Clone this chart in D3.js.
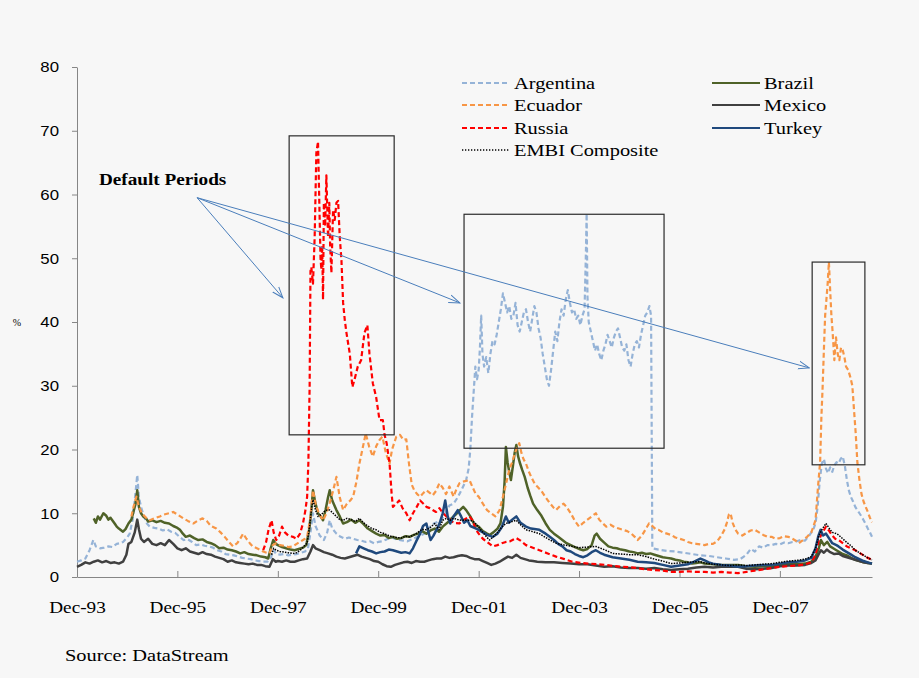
<!DOCTYPE html>
<html>
<head>
<meta charset="utf-8">
<script src="https://cdn.jsdelivr.net/npm/d3@7"></script>
<style>
  body { margin: 0; background: #f7f7f7; }
  svg text { font-family: "Liberation Serif", "Times New Roman", serif; fill: #000; }
</style>
</head>
<body>
<svg id="chart" width="919" height="678"></svg>
<script>
// --- data: [months after Dec-93, spread in %] ---
const xTickLabels = ["Dec-93", "Dec-95", "Dec-97", "Dec-99", "Dec-01", "Dec-03", "Dec-05", "Dec-07"];
const yTicks = [0, 10, 20, 30, 40, 50, 60, 70, 80];
const lastMonth = 190;

const argentina = [[0,2.4],[1,2.6],[2,2.9],[3,4.2],[3.9,5.8],[4.5,4.8],[5.5,4.5],[6.5,4.6],[7.5,4.8],[8.5,4.7],[9.5,5.2],[10.3,5.3],[11,5.5],[12,6.2],[12.6,6.8],[13.3,9.0],[13.8,12.0],[14.4,16.0],[14.8,12.5],[15.3,11.0],[16,9.5],[16.7,8.4],[17.4,7.9],[18.5,7.7],[19.5,7.6],[20.5,7.3],[21.5,7.5],[22.5,7.1],[23.5,6.9],[24.5,6.3],[25.5,5.8],[26.5,5.9],[27.5,5.5],[28.5,5.0],[29.5,5.1],[30.5,4.9],[31.5,4.8],[32.5,4.6],[33.5,4.2],[34.5,4.0],[35.5,3.6],[36.5,3.5],[37.5,3.4],[38.5,3.2],[39.5,3.0],[40.5,2.9],[41.5,2.8],[42.5,2.6],[43.5,2.5],[44.5,2.4],[45.5,2.4],[46.3,3.0],[47,4.2],[47.6,3.6],[48.5,3.5],[49.5,3.6],[50.5,3.4],[51.5,3.5],[52.5,3.6],[53.5,3.8],[54.5,4.0],[55.2,4.5],[55.8,7.0],[56.4,10.0],[57,8.0],[58,6.5],[59,5.8],[59.8,7.0],[60.4,8.9],[61,7.6],[62,6.8],[63,6.3],[64,6.0],[65,6.2],[66,6.0],[67,5.8],[68,5.7],[69,5.5],[70,5.6],[71,5.3],[72,5.5],[73,5.6],[74,5.9],[75,6.3],[76,6.0],[77,5.8],[78,5.7],[79,5.6],[80,5.9],[81,6.2],[82,6.5],[83,6.8],[84,7.6],[85,8.3],[86,8.6],[87,8.9],[88,10.0],[89,11.2],[90,11.5],[91,12.5],[92,13.8],[93,15.2],[93.6,17.0],[94,20.0],[94.4,25.0],[94.8,29.0],[95.2,33.0],[95.6,31.0],[96,32.5],[96.3,36.0],[96.6,41.0],[96.9,35.0],[97.3,33.0],[97.8,34.5],[98.3,32.0],[98.8,35.0],[99.3,37.0],[99.8,36.5],[100.3,38.0],[100.8,40.0],[101.3,42.0],[101.8,44.5],[102.3,43.0],[102.8,41.5],[103.3,42.5],[103.8,40.5],[104.3,41.0],[104.8,43.0],[105.3,39.5],[105.8,38.5],[106.3,40.0],[106.8,41.5],[107.3,42.0],[107.8,40.0],[108.3,38.5],[108.8,40.5],[109.3,42.5],[109.8,41.5],[110.3,39.0],[110.8,37.5],[111.3,35.0],[111.8,33.0],[112.3,31.0],[112.8,30.0],[113.3,32.5],[113.8,35.5],[114.3,38.5],[114.8,37.0],[115.3,40.0],[115.8,42.0],[116.3,41.0],[116.8,43.5],[117.3,45.0],[117.8,43.0],[118.3,41.5],[118.8,42.0],[119.3,40.5],[119.8,41.0],[120.3,39.5],[120.8,41.0],[121.3,42.0],[121.6,50.0],[121.8,57.0],[122,44.0],[122.3,40.0],[122.8,38.5],[123.3,37.0],[123.8,35.5],[124.3,36.5],[124.8,35.0],[125.3,34.0],[125.8,35.5],[126.3,36.5],[126.8,38.0],[127.3,37.0],[127.8,36.0],[128.3,37.5],[128.8,38.5],[129.3,39.0],[129.8,37.5],[130.3,36.0],[130.8,35.5],[131.3,36.5],[131.8,34.0],[132.3,33.0],[132.8,35.0],[133.3,36.5],[133.8,37.0],[134.3,36.0],[134.8,38.0],[135.3,39.5],[135.8,41.0],[136.3,41.5],[136.8,42.5],[137.2,41.0],[137.5,4.5],[139,4.3],[141,4.1],[143,4.0],[145,3.8],[147,3.6],[149,3.4],[151,3.3],[153,3.1],[155,2.9],[157,2.7],[158.5,2.8],[160,3.5],[161,4.4],[162,4.0],[163,4.8],[164,4.6],[165,5.0],[166,5.0],[167,5.2],[168,5.1],[169,5.4],[170,5.3],[171,5.5],[172,5.6],[173,5.8],[174,5.7],[175,6.5],[176,7.5],[176.5,8.4],[177,11.0],[177.5,15.0],[178,17.8],[178.5,18.5],[179,17.0],[179.5,16.3],[180,17.2],[180.5,16.5],[181,17.5],[181.5,18.0],[182,17.8],[182.5,18.5],[183,18.9],[183.5,17.5],[184,15.2],[184.5,13.5],[185,12.5],[185.5,11.8],[186,11.0],[186.5,10.5],[187,10.0],[187.5,9.5],[188,8.9],[188.5,8.3],[189,7.6],[189.5,7.0],[190,6.3]];

const brazil = [[4,9.2],[4.5,8.5],[5,9.5],[5.5,9.0],[6.3,10.0],[7,9.6],[7.5,9.0],[8,9.3],[9,8.4],[9.5,7.9],[10,7.6],[11,7.1],[11.6,7.5],[12.3,8.4],[13,9.0],[13.4,10.0],[14,11.5],[14.4,13.6],[14.8,11.0],[15.3,10.0],[15.8,9.5],[16.5,9.2],[17,8.7],[18,8.9],[19,8.6],[20,8.8],[21,8.5],[22,8.4],[23,8.0],[24,7.7],[24.6,7.4],[25.3,6.8],[26,6.3],[27,6.5],[28,6.1],[29,5.8],[30,5.9],[31,5.5],[32,5.3],[33,5.0],[34,4.5],[35,4.6],[36,4.3],[37,4.2],[38,4.0],[39,3.7],[40,3.9],[41,3.6],[42,3.5],[43,3.4],[44,3.2],[45,3.1],[45.7,2.9],[46.3,4.5],[46.9,5.8],[47.5,5.2],[48,5.0],[49,4.7],[50,4.5],[51,4.3],[52,4.2],[53,4.4],[54,4.6],[54.8,5.0],[55.5,7.5],[56,10.5],[56.4,13.6],[57,11.5],[57.6,10.0],[58.2,9.5],[58.8,8.9],[59.4,10.5],[60,12.5],[60.4,13.6],[61,12.0],[62,10.5],[62.8,9.5],[63.6,8.4],[64.5,8.6],[65.5,9.0],[66.5,8.5],[67.5,8.9],[68.5,8.3],[69.5,7.6],[70.5,7.2],[71.5,6.8],[72.5,6.5],[73.5,6.6],[74.5,6.1],[75.5,6.3],[76.5,6.0],[77.5,6.1],[78.5,6.4],[79.5,6.3],[80.5,6.6],[81.5,6.8],[82.5,7.2],[83.5,6.8],[84.5,7.3],[85.5,7.6],[86.5,7.1],[87.4,7.9],[88.5,8.5],[89.5,9.2],[90.5,9.8],[91.5,10.5],[92.3,11.0],[93,10.5],[94,9.5],[95,8.2],[96,7.9],[97,7.2],[98,6.8],[98.6,6.6],[99.5,7.0],[100.5,7.6],[101.2,8.4],[101.8,11.0],[102.2,15.0],[102.5,20.4],[102.9,18.0],[103.3,16.5],[103.7,15.2],[104.2,17.5],[104.6,19.5],[105,20.7],[105.4,19.0],[105.8,18.0],[106.4,16.8],[107,15.7],[107.7,14.0],[108.3,12.8],[109,11.5],[110,10.5],[111,9.6],[112,8.4],[113,7.4],[114,6.8],[115,6.3],[116,5.8],[117,5.3],[118,5.0],[119,4.7],[120,4.4],[121,4.2],[122,4.4],[123,5.0],[123.7,6.5],[124.2,6.8],[125,6.0],[126,5.4],[127,4.8],[128,4.6],[129,4.5],[130,4.3],[131,4.2],[132,4.0],[133,3.9],[134,3.7],[135,3.8],[136,3.6],[137,3.7],[138,3.5],[139,3.3],[140,3.1],[141,3.0],[142,2.9],[143,2.7],[144,2.6],[145,2.4],[146,2.3],[147,2.1],[148,2.2],[149,2.3],[150,2.1],[152,2.0],[154,1.9],[156,1.9],[158,1.9],[160,1.7],[162,1.6],[164,1.7],[166,1.6],[168,1.9],[170,2.1],[172,2.0],[174,2.1],[175.5,2.4],[176.5,3.2],[177.3,4.5],[177.8,5.8],[178.5,5.0],[179.3,5.5],[180,4.8],[181,4.4],[182,4.0],[183,3.6],[184,3.4],[185,3.0],[186,2.7],[187,2.5],[188,2.3],[189,2.2],[190,2.1]];

const ecuador = [[13,9.5],[13.5,11.0],[14.2,12.6],[14.8,11.0],[15.5,10.0],[16.5,9.3],[17.4,8.9],[18.5,9.2],[19.8,9.5],[20.8,9.8],[22,10.0],[23,10.2],[24,9.8],[25.4,9.2],[26.5,8.8],[27.8,8.4],[29,8.9],[30,9.2],[31,8.8],[32,8.0],[33.3,7.6],[34.3,7.0],[35.3,6.3],[36.3,5.5],[37.3,4.8],[38.3,5.3],[39,6.0],[39.7,6.8],[40.5,6.0],[41.3,5.3],[42,4.8],[43,4.5],[44,4.2],[44.5,4.0],[45.3,3.8],[46,3.7],[46.8,5.0],[47.6,5.3],[48.5,5.0],[49.5,4.9],[50.5,4.7],[51.6,4.8],[52.5,5.2],[53.5,5.6],[54.5,6.0],[55,6.3],[55.7,9.0],[56.4,13.6],[57,11.5],[57.8,10.0],[58.8,8.9],[59.6,10.0],[60.4,11.6],[61.2,13.5],[62,15.7],[62.8,12.5],[63.6,10.5],[64.5,11.5],[65.3,12.0],[66,12.6],[66.8,15.0],[67.5,17.8],[68.2,20.0],[69,22.5],[69.8,20.5],[70.7,18.9],[71.5,20.5],[72.3,21.5],[73,22.0],[73.8,19.5],[74.7,17.8],[75.3,20.0],[76.3,22.0],[77.2,22.3],[78,21.5],[78.7,21.6],[79.3,18.0],[80,14.5],[80.6,13.6],[81.3,13.0],[82,12.6],[82.8,13.2],[83.5,13.6],[84.3,13.2],[85,12.8],[85.8,13.5],[86.6,14.7],[87.4,14.0],[88.2,13.0],[89,14.2],[90,12.6],[90.7,13.8],[91.4,14.7],[92.5,15.0],[93.8,15.2],[94.6,14.0],[95.3,13.0],[96,12.6],[97,11.5],[98,10.5],[99,10.0],[100,9.5],[101,10.5],[101.8,12.6],[102.5,14.5],[103.3,16.8],[104,18.0],[104.7,19.5],[105.3,20.5],[105.7,21.0],[106.2,19.5],[106.7,18.5],[107.3,17.8],[108,16.5],[108.7,15.5],[109.5,14.5],[110,14.2],[111,13.5],[112,12.5],[113,11.6],[114,10.8],[114.5,10.5],[115.5,11.2],[116.3,11.5],[117,11.0],[118,10.0],[119,8.8],[120,7.9],[121,8.5],[122,9.0],[123,9.5],[124,10.0],[124.8,9.0],[125.5,8.5],[126.5,7.9],[127.5,8.2],[128.5,7.8],[129.5,7.6],[130.5,7.4],[131.5,7.2],[132.5,6.8],[133.3,6.3],[134,5.8],[135,6.5],[136,7.6],[136.7,8.4],[137.5,8.0],[138.3,7.5],[139,7.4],[140,7.0],[141,6.8],[142,6.6],[143,6.2],[144,6.0],[145,5.8],[146,5.5],[147,5.3],[148,5.2],[149,5.1],[150,5.0],[151,5.2],[152,5.2],[153,5.6],[154,6.5],[154.8,7.5],[155.3,8.5],[155.8,9.8],[156.2,10.0],[156.7,8.5],[157.3,7.5],[158,6.8],[159,6.5],[160,6.9],[161,7.3],[162,7.4],[163,7.0],[164,6.6],[165,6.3],[166,6.3],[167,6.0],[168,6.1],[169,6.4],[170,6.3],[171,6.0],[172,5.6],[172.5,5.3],[173.5,5.8],[174.5,6.3],[175.5,7.0],[176.5,8.9],[177.1,14.2],[177.6,18.0],[177.9,25.0],[178.2,29.8],[178.5,35.6],[178.8,41.0],[179.1,43.5],[179.4,46.0],[179.7,49.4],[180,45.0],[180.3,41.0],[180.6,38.3],[181,34.0],[181.4,37.6],[181.8,35.0],[182.2,34.0],[182.6,36.0],[183,35.6],[183.4,34.5],[183.8,33.0],[184.3,32.5],[184.8,31.4],[185.3,30.0],[185.7,26.2],[186.1,22.6],[186.5,18.0],[187,15.2],[187.5,13.0],[188,11.8],[188.5,11.0],[189,10.2],[189.5,9.3],[190,8.6]];

const mexico = [[0,1.6],[1,1.9],[2,2.3],[3,2.1],[4,2.4],[5,2.6],[6,2.3],[7,2.5],[8,2.2],[9,2.3],[10,2.1],[11,2.4],[11.8,3.5],[12.3,5.2],[13,5.5],[13.8,7.0],[14.4,9.0],[14.8,7.5],[15.3,6.0],[16,5.5],[17,6.0],[18,5.2],[19,5.0],[20,5.3],[21,5.0],[22,5.8],[23,5.2],[24,4.5],[25,4.2],[26,4.5],[27,4.0],[28,3.8],[29,3.6],[30,3.9],[31,3.6],[32,3.5],[33,3.2],[34,3.0],[35,2.8],[36,2.4],[37,2.6],[38,2.3],[39,2.2],[40,2.1],[41,2.0],[42,2.1],[43,1.9],[44,1.9],[45,1.7],[46,1.6],[46.8,2.8],[47.5,2.4],[48,2.5],[49,2.4],[50,2.6],[51,2.4],[52,2.4],[53,2.6],[54,2.8],[55,2.9],[55.8,4.0],[56.4,5.0],[57,4.5],[58,4.2],[59,3.9],[60,3.7],[61,3.5],[62,3.2],[63,3.0],[64,2.9],[65,3.1],[66,3.3],[67,3.5],[68,3.2],[69,3.0],[70,2.8],[71,2.5],[72,2.4],[73,2.0],[74,1.7],[75,1.6],[76,1.9],[77,2.1],[78,2.3],[79,2.4],[80,2.2],[81,2.5],[82,2.4],[83,2.4],[84,2.6],[85,2.8],[86,2.9],[87,2.9],[88,3.2],[89,3.0],[90,3.1],[91,3.3],[92,3.4],[93,3.3],[94,3.0],[95,2.8],[96,2.8],[97,2.5],[98,2.2],[99,1.9],[100,2.1],[101,2.4],[102,2.8],[103,3.2],[104,3.0],[105,3.5],[106,3.0],[107,2.8],[108,2.6],[109,2.5],[110,2.4],[112,2.3],[114,2.3],[116,2.2],[118,2.1],[120,2.0],[122,2.0],[124,1.8],[126,1.6],[128,1.7],[130,1.5],[132,1.4],[134,1.4],[136,1.3],[138,1.4],[140,1.2],[142,1.1],[144,1.2],[146,1.3],[148,1.5],[150,1.6],[152,1.5],[154,1.6],[156,1.6],[158,1.6],[160,1.3],[162,1.2],[164,1.3],[166,1.4],[168,1.7],[170,1.8],[172,1.8],[174,1.9],[175.5,2.2],[176.5,2.6],[177.2,3.5],[177.8,4.2],[178.5,3.8],[179.2,4.3],[180,3.9],[181,3.6],[182,3.7],[183,3.3],[184,3.1],[185,2.9],[186,2.7],[187,2.5],[188,2.3],[189,2.2],[190,2.1]];

const russia = [[44.5,4.2],[45.2,5.5],[45.8,7.5],[46.5,8.9],[47,7.0],[47.6,5.8],[48.3,6.5],[49,7.9],[49.7,7.0],[50.5,6.5],[51.6,6.3],[52.5,6.0],[53.3,6.8],[54,8.4],[54.6,10.5],[55,12.6],[55.3,18.0],[55.6,30.0],[55.8,48.0],[56,48.6],[56.4,46.0],[56.8,53.3],[57.2,66.5],[57.6,68.3],[58,56.0],[58.2,50.0],[58.4,48.2],[58.6,52.0],[58.8,43.5],[59,58.7],[59.3,55.0],[59.6,63.0],[60,53.3],[60.3,58.7],[60.5,52.0],[60.8,47.7],[61.2,57.6],[61.6,56.0],[62,58.7],[62.4,59.0],[62.8,53.3],[63.2,49.7],[63.6,43.0],[64,40.3],[64.4,38.3],[65.2,35.0],[65.8,29.8],[66.3,30.9],[67.1,33.0],[67.9,34.0],[68.7,38.3],[69.4,39.5],[69.9,35.0],[70.7,30.4],[71.5,28.2],[72.3,24.6],[73.1,24.6],[73.5,22.3],[74,21.0],[74.7,17.8],[75.2,13.0],[75.5,11.0],[76.3,11.5],[77,12.0],[77.8,10.8],[78.7,10.0],[79.5,8.9],[80.3,10.0],[81.2,11.0],[82,12.0],[82.8,11.5],[83.5,11.0],[84.3,10.8],[85,10.5],[85.8,10.2],[86.6,10.8],[87.5,10.0],[88.3,9.5],[89.2,9.0],[90,8.5],[91.4,8.4],[92.5,9.0],[93.8,9.5],[94.5,8.9],[95.3,7.5],[96,6.8],[97,6.0],[98,5.5],[99.4,4.8],[100.5,5.0],[101.5,5.3],[102.5,5.5],[103.5,5.6],[105,6.1],[106,5.7],[107.3,5.0],[108.5,4.7],[110.5,4.2],[112.5,3.7],[114.5,3.2],[116.5,2.8],[118.4,2.4],[120.5,2.2],[122.4,2.1],[124.5,2.0],[126.5,1.9],[128.5,1.7],[130.5,1.6],[132.5,1.5],[134,1.4],[136,1.2],[138,1.1],[140,1.0],[142,0.8],[144,0.8],[146,0.9],[148,0.8],[150,0.8],[152,0.7],[154,0.8],[156,0.7],[158,0.6],[160,0.8],[162,1.0],[164,1.2],[166,1.4],[168,1.6],[170,1.7],[172,1.8],[174,2.0],[175.5,2.3],[176.5,3.5],[177.3,5.8],[178,6.8],[179,7.9],[179.8,7.2],[180.5,6.5],[181.2,6.0],[182,5.8],[183,5.3],[184,4.8],[185,4.5],[186,4.2],[187,3.8],[188,3.4],[189,3.0],[190,2.7]];

const turkey = [[66.7,3.7],[67.5,4.8],[68.5,4.5],[69.5,4.2],[70.5,4.0],[71.5,3.7],[72.5,3.9],[73.5,4.0],[74.5,4.3],[75.5,4.2],[76.5,4.0],[77.5,3.8],[78.5,3.9],[79.5,3.7],[80.3,4.5],[81,5.5],[82,6.8],[82.7,8.0],[83.5,8.4],[84,7.0],[84.5,5.8],[85.2,6.5],[86,7.5],[86.7,8.5],[87.4,10.0],[88,12.0],[88.6,9.5],[89.2,8.4],[90,9.5],[91,10.5],[91.8,9.5],[92.5,8.5],[93.3,8.9],[94,8.0],[95,7.7],[96,7.4],[97,7.0],[98,6.6],[99.4,6.3],[100.5,6.8],[101.5,7.8],[102.5,9.5],[103.2,8.5],[104,9.0],[105,9.5],[106,8.5],[107.3,7.9],[108.5,7.6],[110.5,7.4],[112,6.8],[113,6.3],[114,5.8],[115,5.2],[116,4.8],[117,4.2],[118,4.0],[119,3.6],[120,3.3],[121,3.1],[122,3.4],[123,3.9],[124,4.2],[125,3.8],[126,3.5],[127,3.3],[128,3.1],[130,2.9],[132,2.7],[134,2.4],[136,2.3],[138,2.2],[140,1.9],[142,1.6],[144,1.8],[146,2.0],[147.5,2.4],[149,2.9],[150,2.6],[151,2.3],[152,2.1],[154,1.9],[156,1.8],[158,1.6],[160,1.7],[162,1.8],[164,1.9],[166,1.9],[168,2.1],[170,2.3],[172,2.4],[174,2.6],[175.5,3.0],[176.5,4.5],[177.2,6.5],[177.7,7.4],[178.3,6.5],[179,6.8],[180,5.8],[180.5,5.3],[181.5,5.0],[182,4.8],[183,4.3],[184,3.9],[185,3.5],[186,3.1],[187,2.8],[188,2.5],[189,2.3],[190,2.1]];

const embi = [[46.5,3.5],[47,4.5],[47.6,4.2],[48.5,4.0],[49.5,3.9],[50.5,3.8],[51.6,3.7],[52.5,3.8],[53.5,4.3],[54.5,5.0],[55,5.3],[55.6,8.0],[56.1,11.0],[56.4,12.1],[57,10.5],[57.6,9.5],[58.4,9.8],[59,10.2],[59.7,10.5],[60.4,10.5],[61.2,10.0],[62,9.5],[62.8,9.0],[63.6,8.9],[64.5,9.2],[65.5,9.0],[66.5,8.7],[67.5,9.2],[68.5,8.5],[69.5,8.0],[70.5,7.6],[71.5,7.4],[72.5,7.0],[73.5,6.8],[74.5,6.5],[75.5,6.3],[76.5,6.2],[77.5,6.1],[78.5,6.4],[79.5,6.3],[80.5,6.6],[81.5,7.0],[82.5,7.5],[83.5,7.4],[84.5,7.8],[85.5,8.4],[86.5,7.4],[87.4,8.9],[88.3,9.2],[89.2,8.9],[90,9.2],[91,9.0],[92,8.9],[93,8.9],[94,8.9],[95,8.6],[96,7.8],[97,7.0],[98,6.2],[98.6,5.8],[99.5,6.3],[100.5,7.0],[101.5,7.8],[102.5,8.4],[103.5,8.6],[105,8.9],[106,8.2],[107.3,7.4],[108.5,7.2],[110.5,6.8],[112.5,6.0],[114.5,5.3],[116.5,5.0],[118.4,4.8],[120,4.6],[122,4.7],[124,4.8],[126,4.3],[128,3.7],[130,3.6],[132,3.5],[134,3.5],[136,3.2],[138,2.8],[140,2.5],[142,2.1],[144,2.2],[146,2.3],[148,2.4],[149,2.4],[150,2.2],[152,2.0],[154,1.9],[156,1.8],[158,1.9],[160,1.8],[162,1.9],[164,2.0],[166,2.1],[168,2.3],[170,2.5],[172,2.6],[174,2.8],[175.5,3.2],[176.5,4.5],[177.3,6.5],[178,7.4],[179,8.4],[179.8,7.6],[180.5,7.0],[181.5,6.8],[182,6.6],[183,6.0],[184,5.4],[185,4.9],[186,4.2],[187,3.8],[188,3.4],[189,3.0],[190,2.7]];

// default-period boxes: [from month, to month, low %, high %]
const defaultBoxes = [[50.7, 75.8, 22.3, 69.2], [92.5, 140.3, 20.2, 56.9], [175.7, 188.3, 17.6, 49.4]];
// arrows from the "Default Periods" note: [month, %] start and targets
const arrowFrom = [28.7, 59.5];
const arrowTo = [[49.2, 43.8], [91.5, 43.0], [175, 32.8]];

// --- chart ---
const svg = d3.select("#chart");
const W = 919, H = 678;
svg.append("rect").attr("width", W).attr("height", H).attr("fill", "#f7f7f7");

const base = new Date(1993, 11, 1);
const monthToDate = m => new Date(base.getTime() + m * 30.4375 * 864e5);

const x = d3.scaleTime().domain([monthToDate(0), monthToDate(lastMonth)]).range([77, 872]);
const y = d3.scaleLinear().domain([0, 80]).range([577, 67]);
const sx = 1.2; // the source picture is stretched sideways

const series = [
  { name: "Argentina", data: argentina, color: "#95b3d7", dash: "5,3", width: 2.2 },
  { name: "Brazil", data: brazil, color: "#4f6228", dash: null, width: 2.5 },
  { name: "Ecuador", data: ecuador, color: "#f79646", dash: "5,3", width: 2.2 },
  { name: "Mexico", data: mexico, color: "#404040", dash: null, width: 2.5 },
  { name: "Russia", data: russia, color: "#ff0000", dash: "5,3", width: 2.2 },
  { name: "Turkey", data: turkey, color: "#1f497d", dash: null, width: 2.5 },
  { name: "EMBI Composite", data: embi, color: "#000000", dash: "1.5,1.2", width: 1.5 }
];

// axes
const parseTick = d3.timeParse("%b-%y");
const xAxis = d3.axisBottom(x)
  .tickValues(xTickLabels.map(parseTick))
  .tickFormat(d3.timeFormat("%b-%y"))
  .tickSize(-6).tickSizeOuter(0);
const gx = svg.append("g").attr("transform", "translate(0,577)").call(xAxis);
gx.select(".domain").attr("stroke", "#868686");
gx.selectAll(".tick line").attr("stroke", "#868686");
gx.selectAll(".tick text")
  .attr("y", 0).attr("dy", 0)
  .attr("transform", `translate(0,36) scale(${sx},1)`)
  .style("font-size", "16px").style("font-family", "'Liberation Serif', serif");

const yAxis = d3.axisLeft(y).tickValues(yTicks).tickSize(5).tickSizeOuter(0);
const gy = svg.append("g").attr("transform", "translate(77,0)").call(yAxis);
gy.select(".domain").attr("stroke", "#868686");
gy.selectAll(".tick line").attr("stroke", "#868686");
gy.selectAll(".tick text")
  .attr("x", 0).attr("dy", "0.35em")
  .attr("transform", `translate(-18,0) scale(${sx},1)`)
  .style("font-size", "14px").style("font-family", "'Liberation Sans', Arial, sans-serif");

svg.append("text").attr("transform", "translate(17,326)")
  .attr("text-anchor", "middle").style("font-size", "10px").text("%");

// series
const line = d3.line()
  .x(d => x(monthToDate(d[0])))
  .y(d => y(d[1]));

svg.append("g").selectAll("path")
  .data(series)
  .join("path")
  .attr("d", d => line(d.data))
  .attr("fill", "none")
  .attr("stroke", d => d.color)
  .attr("stroke-width", d => d.width)
  .attr("stroke-dasharray", d => d.dash)
  .attr("stroke-linejoin", "round");

// default period boxes
svg.append("g").selectAll("rect")
  .data(defaultBoxes)
  .join("rect")
  .attr("x", d => x(monthToDate(d[0])))
  .attr("y", d => y(d[3]))
  .attr("width", d => x(monthToDate(d[1])) - x(monthToDate(d[0])))
  .attr("height", d => y(d[2]) - y(d[3]))
  .attr("fill", "none")
  .attr("stroke", "#2b2b2b")
  .attr("stroke-width", 1.2);

// arrows
svg.append("defs").append("marker")
  .attr("id", "arrowhead")
  .attr("viewBox", "0 0 12 10")
  .attr("refX", 11).attr("refY", 5)
  .attr("markerWidth", 12).attr("markerHeight", 10)
  .attr("markerUnits", "userSpaceOnUse")
  .attr("orient", "auto")
  .append("path")
  .attr("d", "M0,1 L11,5 L0,9")
  .attr("fill", "none").attr("stroke", "#4a7ebb").attr("stroke-width", 1);

svg.append("g").selectAll("line")
  .data(arrowTo)
  .join("line")
  .attr("x1", x(monthToDate(arrowFrom[0])))
  .attr("y1", y(arrowFrom[1]))
  .attr("x2", d => x(monthToDate(d[0])))
  .attr("y2", d => y(d[1]))
  .attr("stroke", "#4a7ebb")
  .attr("stroke-width", 1)
  .attr("marker-end", "url(#arrowhead)");

svg.append("text").attr("transform", `translate(99,185) scale(${sx},1)`)
  .style("font-size", "16px").style("font-weight", "bold").text("Default Periods");

// legend, two columns as in the original
const legendPos = {
  "Argentina": [462, 83], "Ecuador": [462, 105], "Russia": [462, 128], "EMBI Composite": [462, 150],
  "Brazil": [712, 83], "Mexico": [712, 105], "Turkey": [712, 128]
};
const lg = svg.append("g").selectAll("g")
  .data(series)
  .join("g")
  .attr("transform", d => `translate(${legendPos[d.name][0]},${legendPos[d.name][1]})`);
lg.append("line")
  .attr("x1", 0).attr("x2", 48)
  .attr("stroke", d => d.color)
  .attr("stroke-width", d => d.dash && d.dash.startsWith("1.5") ? 1.3 : 2)
  .attr("stroke-dasharray", d => d.dash && d.dash.startsWith("1.5") ? "1.3,1.7" : d.dash);
lg.append("text")
  .attr("transform", `translate(52,6) scale(${sx},1)`)
  .style("font-size", "17px")
  .text(d => d.name);

svg.append("text").attr("transform", `translate(65,661) scale(${sx},1)`)
  .style("font-size", "17px").text("Source: DataStream");
</script>
</body>
</html>
